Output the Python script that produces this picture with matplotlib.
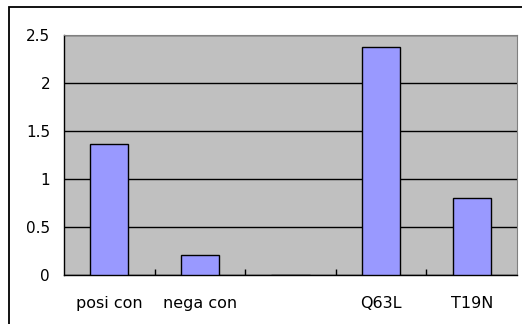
import matplotlib.pyplot as plt
from matplotlib.patches import Rectangle

categories = ["posi con", "nega con", "", "Q63L", "T19N"]
values = [1.36, 0.21, 0, 2.37, 0.8]
yticks = [0, 0.5, 1, 1.5, 2, 2.5]
ytick_labels = ["0", "0.5", "1", "1.5", "2", "2.5"]

W, H = 522, 324
fig = plt.figure(figsize=(W / 100, H / 100), dpi=100)
fig.patch.set_facecolor("white")

# outer chart frame (only left/top edges are visible in the crop)
fig.patches.append(Rectangle((9 / W, -0.1), 1.2, 1 - 7 / H + 0.1,
                             transform=fig.transFigure, fill=False,
                             edgecolor="black", linewidth=1.3))

ax = fig.add_axes([64 / W, 1 - 275 / H, (517 - 64) / W, (275 - 35) / H])
ax.set_facecolor("#C0C0C0")

x = range(len(categories))
ax.bar(x, values, width=0.42, color="#9999FF", edgecolor="black",
       linewidth=1, zorder=3)

ax.set_xlim(-0.5, len(categories) - 0.5)
ax.set_ylim(0, 2.5)
ax.set_yticks(yticks)
ax.set_yticklabels(ytick_labels)
ax.grid(axis="y", color="black", linewidth=1, zorder=1)

ax.set_xticks([i + 0.5 for i in range(len(categories) - 1)], minor=True)
ax.set_xticks(list(x))
ax.set_xticklabels(categories)
ax.tick_params(axis="x", which="major", length=0, pad=15, labelsize=11.5)
ax.tick_params(axis="x", which="minor", direction="in", length=4, width=1)
ax.tick_params(axis="y", length=0, pad=10, labelsize=11)

for side in ("top", "right"):
    ax.spines[side].set_color("#808080")
    ax.spines[side].set_linewidth(0.8)
for side in ("left", "bottom"):
    ax.spines[side].set_color("black")
    ax.spines[side].set_linewidth(1)

fig.savefig("out.png", dpi=100)
